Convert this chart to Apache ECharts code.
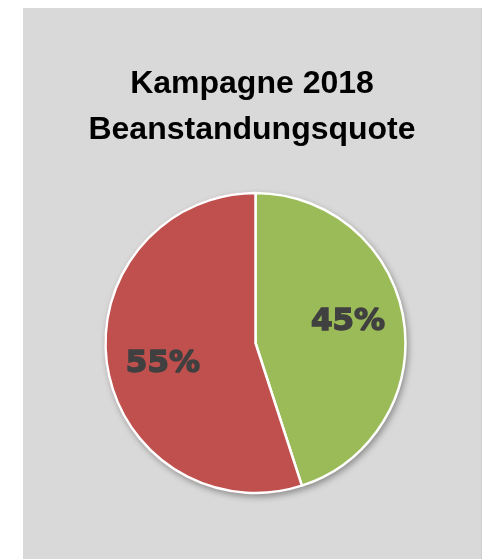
<!DOCTYPE html>
<html>
<head>
<meta charset="utf-8">
<script src="https://cdn.jsdelivr.net/npm/echarts@6/dist/echarts.min.js"></script>
<style>
  html, body { margin: 0; padding: 0; background: #ffffff; }
  #chart { position: absolute; left: 23px; top: 8px; width: 458px; height: 551px; background: #d9d9d9; border-right: 1px solid #cfcfcf; }
</style>
</head>
<body>
<div id="chart"></div>
<script>
const titleLines = ['Kampagne 2018', 'Beanstandungsquote'];
const categories = ['Ohne Beanstandung', 'Beanstandet'];
const values = [45, 55];
const colors = ['#9bbb59', '#c0504d'];

const pieData = categories.map((c, i) => ({ name: c, value: values[i], itemStyle: { color: colors[i] } }));

const chart = echarts.init(document.getElementById('chart'), null, { renderer: 'canvas' });
const center = [232.5, 335];
chart.setOption({
  backgroundColor: '#d9d9d9',
  animation: false,
  title: {
    text: titleLines.join('\n'),
    left: 'center',
    top: 48,
    textStyle: {
      fontFamily: 'Liberation Sans',
      fontWeight: 'bold',
      fontSize: 32,
      lineHeight: 46,
      color: '#000000'
    }
  },
  series: [
    {
      type: 'pie',
      silent: true,
      center: center,
      radius: [0, 151],
      startAngle: 90,
      clockwise: true,
      label: { show: false },
      labelLine: { show: false },
      itemStyle: {
        borderWidth: 0,
        shadowBlur: 6,
        shadowOffsetX: 2,
        shadowOffsetY: 3,
        shadowColor: 'rgba(0,0,0,0.35)'
      },
      data: pieData
    },
    {
      type: 'pie',
      silent: true,
      center: center,
      radius: [0, 150],
      startAngle: 90,
      clockwise: true,
      label: { show: false },
      labelLine: { show: false },
      itemStyle: { borderColor: '#ffffff', borderWidth: 2.5 },
      data: pieData
    },
    {
      type: 'pie',
      silent: true,
      center: center,
      radius: [0, 184],
      startAngle: 94,
      clockwise: true,
      itemStyle: { color: 'rgba(0,0,0,0)', borderWidth: 0 },
      labelLine: { show: false },
      label: {
        show: true,
        position: 'inside',
        formatter: '{d}%',
        fontFamily: 'DejaVu Sans',
        fontWeight: 'bold',
        fontSize: 31,
        color: '#404040',
        textBorderColor: '#404040',
        textBorderWidth: 1.5
      },
      data: categories.map((c, i) => ({ name: c, value: values[i] }))
    }
  ]
});
</script>
</body>
</html>
